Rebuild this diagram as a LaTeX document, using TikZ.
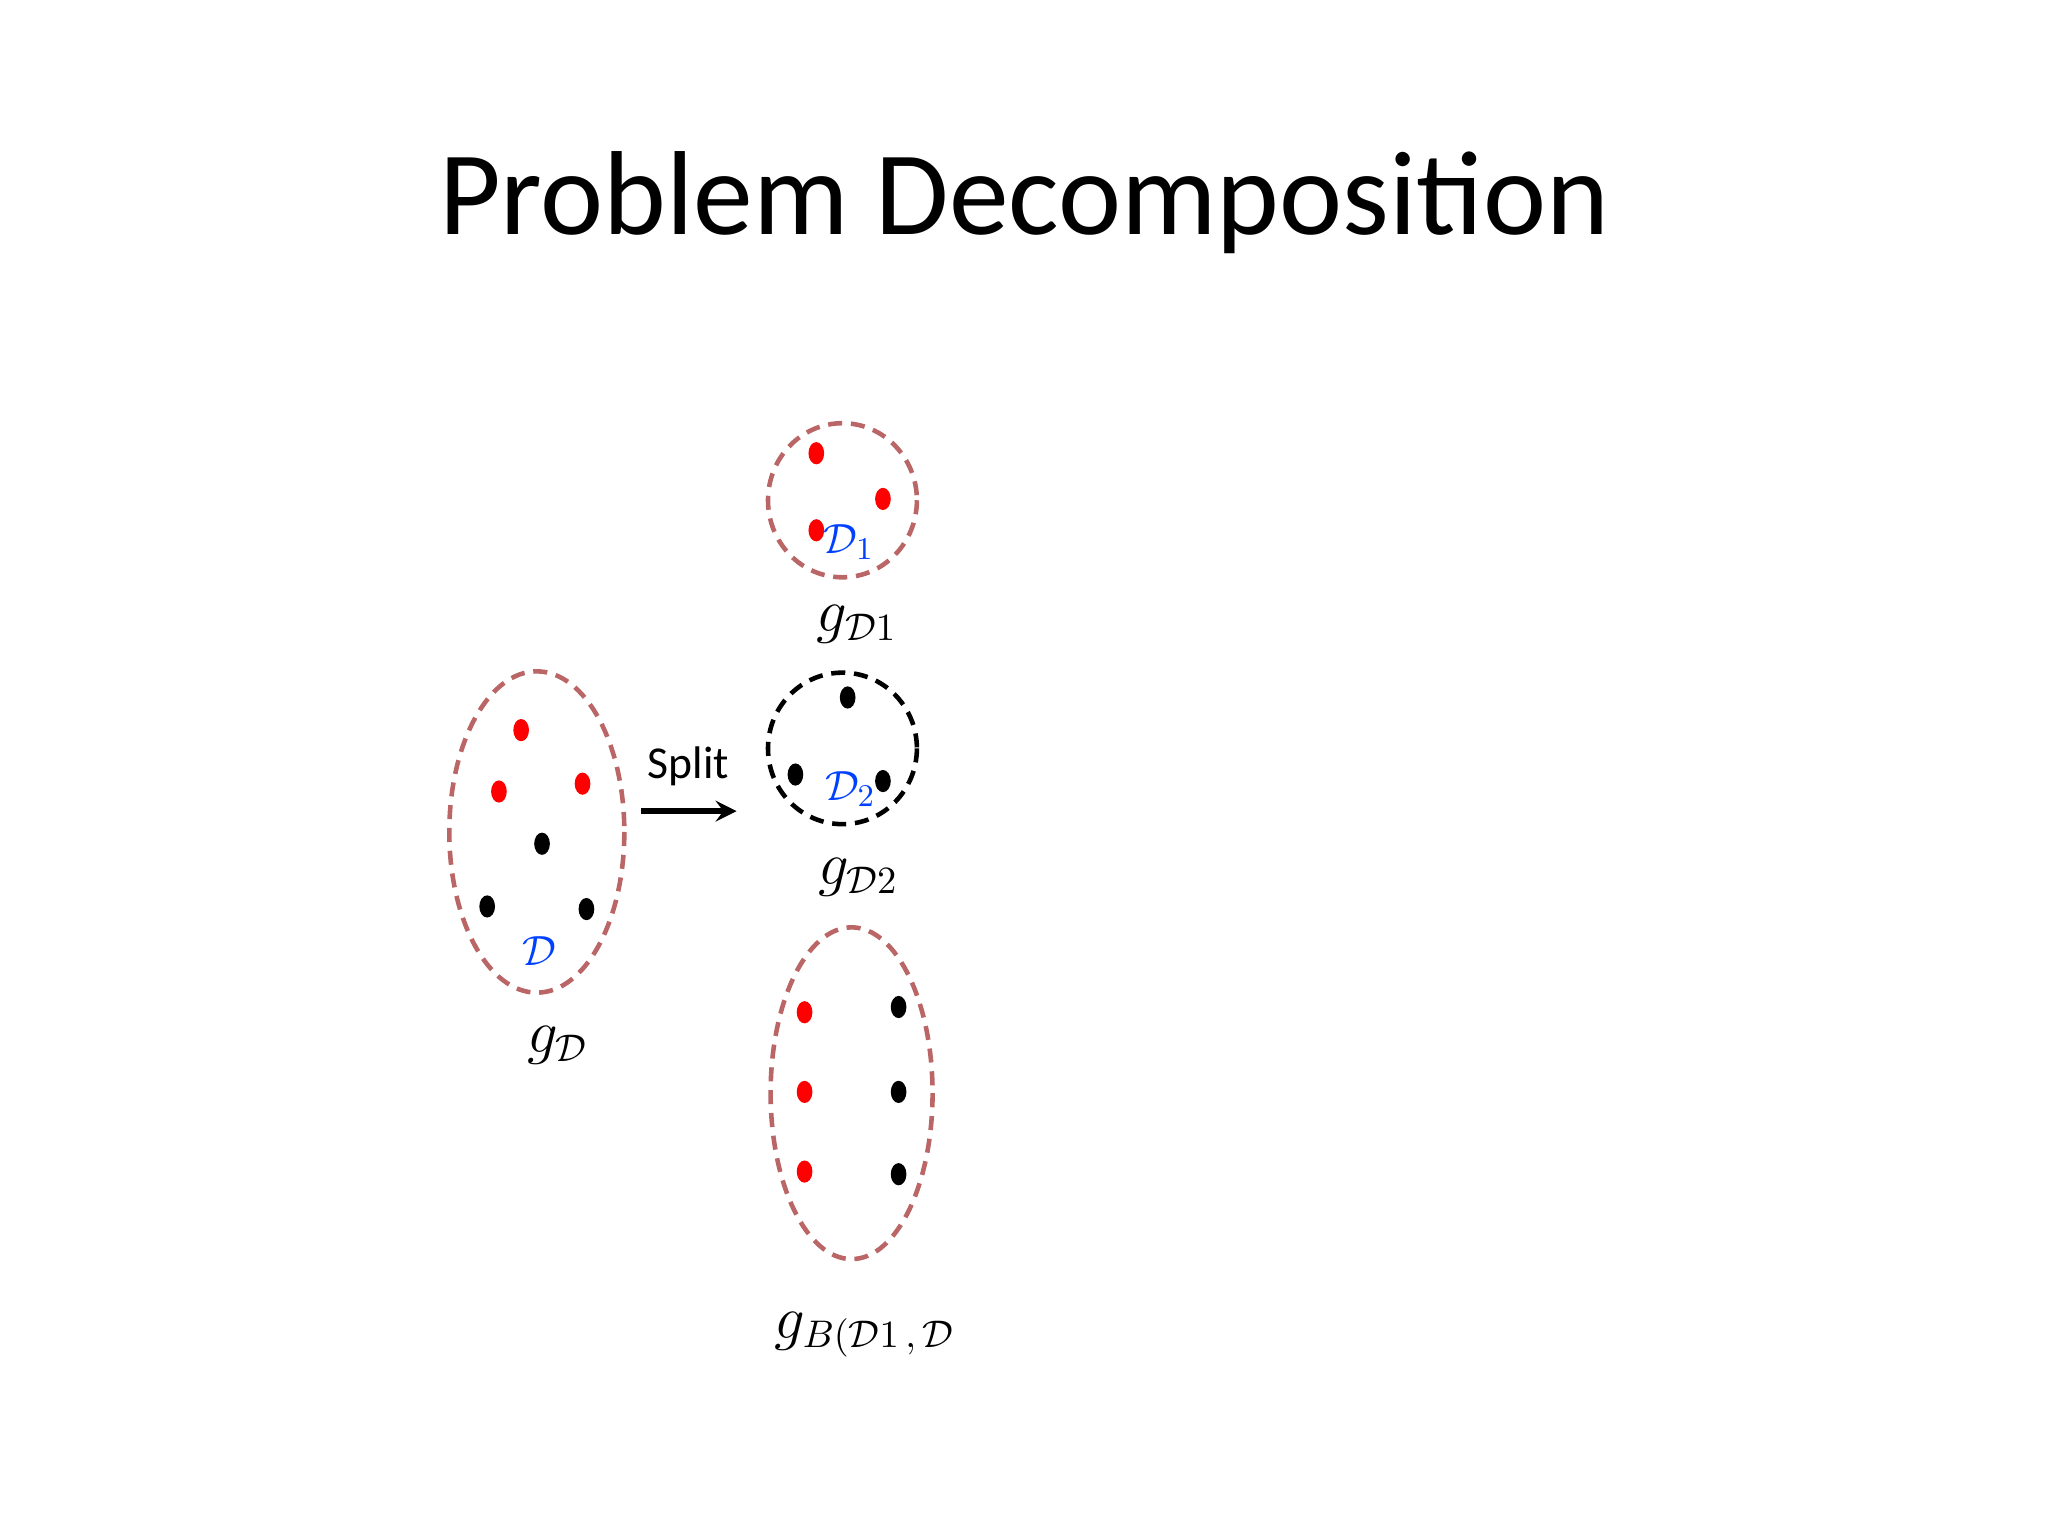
\documentclass[tikz,border=0pt]{standalone}
\usepackage{fontspec}
\setmainfont{Carlito}
\usepackage{amsmath}
\begin{document}
\begin{tikzpicture}[x=0.013061cm,y=-0.013061cm,
  grp/.style={draw=red!55!black!60!white,dashed,line width=1.3pt,dash pattern=on 4pt off 2.5pt},
  grpb/.style={draw=black,dashed,line width=1.3pt,dash pattern=on 4pt off 2.5pt},
  rdot/.style={fill=red!85!orange,draw=none,ellipse,minimum width=12\pgflinewidth},
  lbl/.style={font=\fontsize{16}{18}\selectfont},
  dl/.style={text=blue!75!cyan,font=\fontsize{13}{15}\selectfont}]
\useasboundingbox (0,0) rectangle (1568,1176);
\node (title) at (784,155) {\fontsize{34}{40}\selectfont Problem Decomposition};
% big ellipse
\draw[grp] (411,637) ellipse [x radius=67,y radius=123];
\foreach \p/\c in {{399,559}/red,{382,606}/red,{446,600}/red,{415,646}/black,{373,694}/black,{449,696}/black}
  \fill[\c] (\p) ellipse [x radius=6,y radius=8.5];
\node[dl] (d) at (413,728) {$\mathcal{D}$};
\node[lbl] (gd) at (427,800) {$g_{\mathcal{D}}$};
% split arrow
\coordinate (a1) at (491,621); \coordinate (a2) at (564,621);
\draw[->,line width=1.6pt,>=stealth] (a1) -- (a2);
\node[font=\fontsize{13}{15}\selectfont] (split) at (527,587) {Split};
% ellipse 1
\draw[grp] (645,383) ellipse [x radius=57,y radius=59];
\foreach \p in {{625,347},{676,382},{625,406}}
  \fill[red] (\p) ellipse [x radius=6,y radius=8.5];
\node[dl] (d1) at (650,415) {$\mathcal{D}_1$};
\node[lbl] (g1) at (656,478) {$g_{\mathcal{D}1}$};
% ellipse 2
\draw[grpb] (645,573) ellipse [x radius=57,y radius=58];
\foreach \p in {{649,534},{609,593},{676,598}}
  \fill[black] (\p) ellipse [x radius=6,y radius=8.5];
\node[dl] (d2) at (651,604) {$\mathcal{D}_2$};
\node[lbl] (g2) at (657,672) {$g_{\mathcal{D}2}$};
% ellipse 3
\draw[grp] (652,837) ellipse [x radius=62,y radius=127];
\foreach \p/\c in {{616,775}/red,{616,836}/red,{616,897}/red,{688,771}/black,{688,836}/black,{688,899}/black}
  \fill[\c] (\p) ellipse [x radius=6,y radius=8.5];
\node[lbl] (g3) at (662,1022) {$g_{B(\mathcal{D}1\,,\,\mathcal{D}}$};
\end{tikzpicture}
\end{document}
